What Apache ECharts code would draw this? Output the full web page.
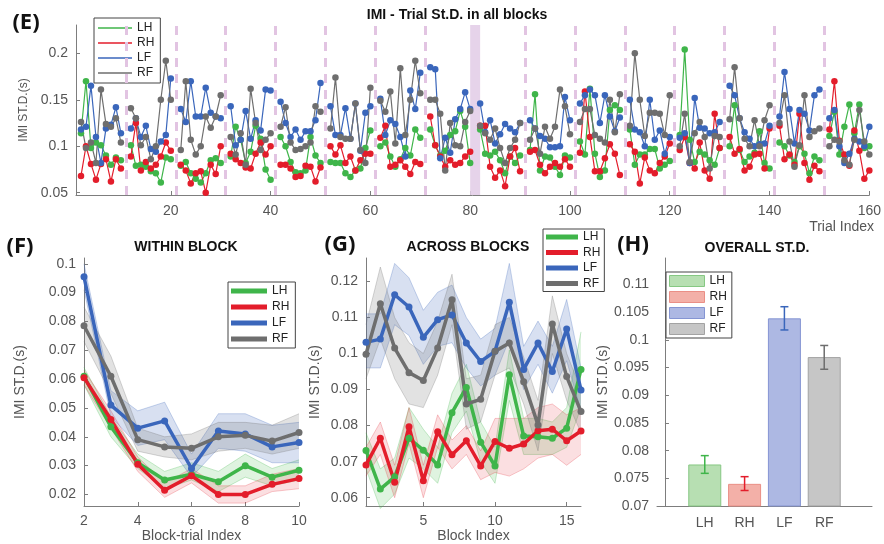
<!DOCTYPE html>
<html>
<head>
<meta charset="utf-8">
<script src="https://cdn.jsdelivr.net/npm/echarts@6/dist/echarts.min.js"></script>
<style>html,body{margin:0;background:#fff}#chart{width:884px;height:544px}</style>
</head>
<body>
<div id="chart"></div>
<script>
const names = ['LH', 'RH', 'LF', 'RF'];
const lineColors = ['#3fb54a', '#e31d2b', '#3a66bb', '#6e6e6e'];
const bandFills = ['rgba(63,181,74,0.17)', 'rgba(227,29,43,0.14)', 'rgba(58,102,187,0.20)', 'rgba(110,110,110,0.20)'];
const bandEdges = ['rgba(63,181,74,0.35)', 'rgba(227,29,43,0.3)', 'rgba(58,102,187,0.35)', 'rgba(110,110,110,0.35)'];

// (E) trial std per block, trials 2..10 of each of 16 blocks
const eLH = [
  [.114, .170, .098, .104, .101, .090, .080, .088, .085],
  [.101, .079, .080, .078, .073, .071, .061, .088, .086],
  [.079, .083, .071, .065, .061, .071, .085, .087, .082],
  [.089, .121, .107, .082, .094, .122, .108, .075, .064],
  [.110, .100, .083, .072, .071, .074, .110, .090, .082],
  [.083, .082, .082, .071, .067, .074, .076, .098, .117],
  [.100, .104, .089, .078, .086, .098, .090, .118, .109],
  [.118, .101, .090, .095, .112, .116, .138, .121, .082],
  [.118, .092, .090, .094, .085, .071, .089, .082, .090],
  [.096, .156, .074, .089, .088, .078, .069, .090, .088],
  [.105, .091, .162, .092, .067, .074, .139, .144, .139],
  [.118, .080, .091, .091, .097, .097, .076, .080, .084],
  [.112, .204, .107, .083, .094, .091, .085, .080, .098],
  [.100, .144, .096, .083, .089, .093, .116, .082, .076],
  [.104, .100, .090, .083, .100, .092, .071, .089, .085],
  [.111, .137, .091, .121, .145, .114, .145, .098, .100]
];
const eRH = [
  [.068, .100, .081, .064, .081, .086, .062, .086, .076],
  [.089, .125, .074, .083, .076, .080, .089, .104, .095],
  [.080, .074, .060, .071, .073, .050, .080, .070, .100],
  [.092, .086, .082, .077, .076, .092, .104, .091, .100],
  [.080, .080, .076, .067, .068, .079, .078, .062, .077],
  [.100, .091, .101, .082, .089, .074, .085, .092, .092],
  [.109, .122, .078, .080, .085, .078, .070, .083, .081],
  [.132, .101, .089, .078, .085, .080, .082, .089, .094],
  [.122, .122, .078, .066, .074, .057, .089, .098, .073],
  [.094, .096, .080, .071, .078, .082, .078, .086, .078],
  [.093, .159, .110, .073, .073, .087, .102, .092, .069],
  [.102, .094, .060, .088, .074, .071, .082, .089, .103],
  [.096, .110, .082, .076, .104, .074, .065, .135, .098],
  [.110, .092, .097, .074, .078, .091, .092, .076, .119],
  [.122, .086, .091, .080, .135, .082, .064, .079, .073],
  [.118, .170, .106, .091, .079, .117, .095, .065, .074]
];
const eLF = [
  [.118, .121, .165, .110, .082, .119, .123, .142, .114],
  [.119, .130, .110, .122, .097, .094, .105, .112, .173],
  [.140, .126, .170, .132, .132, .163, .136, .132, .130],
  [.143, .101, .107, .138, .108, .128, .117, .161, .160],
  [.148, .125, .110, .118, .107, .116, .116, .128, .168],
  [.143, .112, .112, .141, .108, .146, .095, .136, .143],
  [.151, .112, .128, .124, .110, .089, .160, .140, .179],
  [.185, .183, .087, .109, .093, .129, .140, .158, .140],
  [.146, .115, .128, .103, .113, .124, .119, .115, .125],
  [.128, .119, .111, .108, .099, .099, .100, .153, .128],
  [.146, .155, .161, .155, .125, .155, .132, .116, .131],
  [.150, .118, .115, .100, .150, .107, .117, .092, .110],
  [.109, .114, .082, .152, .120, .119, .114, .115, .126],
  [.165, .155, .130, .115, .108, .100, .102, .103, .122],
  [.132, .180, .140, .103, .139, .135, .117, .155, .161],
  [.130, .139, .100, .082, .092, .108, .105, .100, .121]
];
const eRF = [
  [.126, .098, .104, .082, .161, .124, .121, .130, .104],
  [.141, .130, .101, .110, .086, .100, .150, .192, .150],
  [.096, .170, .107, .091, .100, .132, .120, .132, .155],
  [.110, .091, .114, .080, .162, .125, .096, .107, .114],
  [.121, .142, .104, .096, .097, .100, .104, .143, .137],
  [.119, .174, .110, .108, .108, .146, .096, .082, .163],
  [.149, .137, .159, .103, .184, .112, .150, .192, .157],
  [.150, .150, .135, .074, .125, .101, .100, .126, .138],
  [.122, .114, .107, .119, .098, .082, .098, .107, .125],
  [.107, .119, .092, .121, .108, .121, .161, .143, .113],
  [.126, .140, .140, .112, .108, .104, .150, .115, .156],
  [.122, .200, .150, .111, .136, .136, .135, .112, .155],
  [.100, .135, .083, .114, .126, .110, .076, .111, .110],
  [.129, .185, .130, .108, .100, .128, .100, .128, .144],
  [.125, .155, .105, .078, .101, .155, .110, .116, .119],
  [.100, .107, .105, .085, .080, .107, .139, .105, .091]
];
const eXTicks = [20, 40, 60, 80, 100, 120, 140, 160];
const eYTicks = [0.05, 0.1, 0.15, 0.2];
const blockEdges = [11, 21, 31, 41, 51, 61, 71, 91, 101, 111, 121, 131, 141, 151];
const sessionBreak = [80, 82];

// (F) within block
const fX = [2, 3, 4, 5, 6, 7, 8, 9, 10];
const fLH = [.061, .0435, .031, .025, .027, .0244, .030, .026, .0284];
const fRH = [.0605, .046, .0305, .0215, .0265, .020, .020, .0235, .0255];
const fLF = [.0955, .051, .043, .0455, .029, .042, .041, .0365, .038];
const fRF = [.0785, .061, .039, .0365, .036, .040, .0405, .0385, .0415];
const fLHlo = [.058, .040, .029, .022, .025, .021, .026, .023, .025];
const fLHhi = [.064, .047, .034, .028, .031, .028, .034, .029, .032];
const fRHlo = [.058, .043, .028, .019, .024, .017, .017, .021, .022];
const fRHhi = [.063, .049, .033, .024, .029, .023, .023, .027, .029];
const fLFlo = [.091, .047, .037, .039, .026, .036, .035, .031, .031];
const fLFhi = [.100, .056, .049, .052, .034, .048, .048, .044, .045];
const fRFlo = [.073, .055, .035, .033, .032, .035, .036, .034, .036];
const fRFhi = [.085, .068, .043, .040, .041, .045, .045, .044, .048];
const fYTicks = [0.02, 0.03, 0.04, 0.05, 0.06, 0.07, 0.08, 0.09, 0.1];

// (G) across blocks
const gX = [1, 2, 3, 4, 5, 6, 7, 8, 9, 10, 11, 12, 13, 14, 15, 16];
const gLH = [.0731, .0624, .0658, .0765, .0732, .0691, .0836, .0906, .0754, .0688, .0941, .0771, .0769, .0765, .0793, .0956];
const gRH = [.0691, .0765, .0643, .0797, .0647, .0783, .0719, .0758, .0688, .0756, .0737, .0749, .0786, .0790, .0758, .0785];
const gLF = [.1031, .1040, .1163, .1129, .1045, .1094, .1107, .1029, .0978, .1006, .1142, .0956, .1029, .0950, .1068, .0899];
const gRF = [.0998, .1138, .1015, .0947, .0925, .1015, .1149, .0860, .0873, .1006, .1029, .0922, .0802, .1082, .0936, .0839];
const gLHlo = [.068, .057, .061, .071, .068, .064, .078, .084, .070, .064, .087, .072, .072, .072, .074, .085];
const gLHhi = [.078, .068, .071, .085, .079, .074, .089, .097, .081, .074, .101, .082, .082, .081, .085, .106];
const gRHlo = [.066, .072, .060, .075, .060, .074, .068, .072, .065, .067, .066, .068, .071, .072, .069, .072];
const gRHhi = [.074, .081, .069, .085, .069, .083, .076, .080, .073, .082, .082, .082, .085, .086, .083, .085];
const gLFlo = [.096, .096, .108, .105, .097, .102, .103, .096, .091, .094, .104, .090, .097, .089, .098, .084];
const gLFhi = [.111, .111, .125, .121, .112, .117, .119, .110, .104, .107, .125, .102, .109, .102, .115, .096];
const gRFlo = [.093, .104, .093, .086, .085, .094, .108, .079, .081, .094, .096, .086, .073, .100, .087, .078];
const gRFhi = [.108, .124, .110, .103, .100, .109, .122, .093, .094, .108, .110, .099, .087, .116, .100, .090];
const gXTicks = [5, 10, 15];
const gYTicks = [0.06, 0.07, 0.08, 0.09, 0.1, 0.11, 0.12];

// (H) overall
const hCats = ['LH', 'RH', 'LF', 'RF'];
const hMean = [.0775, .0740, .1039, .0969];
const hErrLo = [.0759, .0728, .1018, .0947];
const hErrHi = [.0791, .0753, .1060, .0990];
const hYTicks = [0.07, 0.075, 0.08, 0.085, 0.09, 0.095, 0.1, 0.105, 0.11];
const hFills = ['#b7dfb2', '#f3b0a8', '#adb8e3', '#c6c6c6'];
const hBorders = ['#86c883', '#ea8f86', '#8595d3', '#a3a3a3'];

const font = "'Liberation Sans', Arial, sans-serif";
const axisGray = '#7d7d7d';
const labelGray = '#555';

function axisBase(gi) {
  return {
    gridIndex: gi, type: 'value',
    axisLine: { show: true, lineStyle: { color: axisGray, width: 1 } },
    axisTick: { show: true, inside: true, length: 4, lineStyle: { color: axisGray } },
    axisLabel: { color: labelGray, fontSize: 14, fontFamily: font },
    splitLine: { show: false },
    nameTextStyle: { color: labelGray, fontSize: 14, fontFamily: font }
  };
}
function withTicks(ax, ticks, extra) {
  ax.axisTick.customValues = ticks;
  ax.axisLabel.customValues = ticks;
  ax.axisLabel.formatter = v => String(+v.toFixed(4));
  return Object.assign(ax, extra);
}

function blockData(blocks) {
  const d = [];
  blocks.forEach((b, k) => {
    b.forEach((v, j) => d.push([10 * k + 2 + j, v]));
    d.push([10 * k + 11, '-']);
  });
  return d;
}

const series = [];
// block separators and session break (E)
series.push({
  type: 'line', name: 'sep', xAxisIndex: 0, yAxisIndex: 0, data: [], z: 1, silent: true,
  markLine: {
    silent: true, symbol: 'none', label: { show: false },
    lineStyle: { color: '#e2c4e2', width: 3, type: [9, 7] },
    data: blockEdges.map(x => ({ xAxis: x }))
  },
  markArea: {
    silent: true, itemStyle: { color: '#e6d3ea' },
    data: [[{ xAxis: sessionBreak[0] }, { xAxis: sessionBreak[1] }]]
  }
});
[eLH, eRH, eLF, eRF].forEach((blocks, i) => {
  series.push({
    type: 'line', name: names[i], xAxisIndex: 0, yAxisIndex: 0,
    data: blockData(blocks), connectNulls: false,
    symbol: 'circle', symbolSize: 6.5,
    lineStyle: { width: 1.2, color: lineColors[i] }, itemStyle: { color: lineColors[i] }, z: 3
  });
});

// shaded mean +- sem band, drawn as one polygon through the axis coordinates
function addBand(id, gi, xs, lo, hi, i) {
  series.push({
    type: 'custom', name: id, xAxisIndex: gi, yAxisIndex: gi, z: 2, silent: true,
    data: xs.map((x, k) => [x, lo[k], hi[k]]),
    encode: { x: 0, y: [1, 2] },
    renderItem: (params, api) => {
      if (params.dataIndex !== 0) return null;
      const low = xs.map((x, k) => api.coord([x, lo[k]]));
      const high = xs.map((x, k) => api.coord([x, hi[k]]));
      const edge = { fill: null, stroke: bandEdges[i], lineWidth: 0.8 };
      return {
        type: 'group', children: [
          { type: 'polygon', shape: { points: low.concat(high.slice().reverse()) }, style: { fill: bandFills[i] } },
          { type: 'polyline', shape: { points: low }, style: edge },
          { type: 'polyline', shape: { points: high }, style: edge }
        ]
      };
    }
  });
}
function addMean(gi, xs, ys, i) {
  series.push({
    type: 'line', name: names[i], xAxisIndex: gi, yAxisIndex: gi,
    data: xs.map((x, k) => [x, ys[k]]), symbol: 'circle', symbolSize: 7,
    lineStyle: { width: 3.5, color: lineColors[i] }, itemStyle: { color: lineColors[i] }, z: 4
  });
}
const fLo = [fLHlo, fRHlo, fLFlo, fRFlo], fHi = [fLHhi, fRHhi, fLFhi, fRFhi];
const gLo = [gLHlo, gRHlo, gLFlo, gRFlo], gHi = [gLHhi, gRHhi, gLFhi, gRFhi];
[0, 1, 2, 3].forEach(i => addBand('f' + i, 1, fX, fLo[i], fHi[i], i));
[fLH, fRH, fLF, fRF].forEach((ys, i) => addMean(1, fX, ys, i));
[0, 1, 2, 3].forEach(i => addBand('g' + i, 2, gX, gLo[i], gHi[i], i));
[gLH, gRH, gLF, gRF].forEach((ys, i) => addMean(2, gX, ys, i));

// (H) bars + error bars
series.push({
  type: 'bar', name: 'overall', xAxisIndex: 3, yAxisIndex: 3, barWidth: 33, z: 2,
  data: hMean.map((v, i) => ({
    value: [i + 1, v],
    itemStyle: { color: hFills[i], borderColor: hBorders[i], borderWidth: 1 }
  }))
});
series.push({
  type: 'custom', name: 'err', xAxisIndex: 3, yAxisIndex: 3, z: 5,
  data: hMean.map((v, i) => [i + 1, hErrLo[i], hErrHi[i]]),
  encode: { x: 0, y: [1, 2] },
  renderItem: (params, api) => {
    const x = api.value(0);
    const a = api.coord([x, api.value(1)]);
    const b = api.coord([x, api.value(2)]);
    const c = lineColors[params.dataIndex];
    const st = { stroke: c, lineWidth: 1.5 };
    return {
      type: 'group', children: [
        { type: 'line', shape: { x1: a[0], y1: a[1], x2: b[0], y2: b[1] }, style: st },
        { type: 'line', shape: { x1: a[0] - 4, y1: a[1], x2: a[0] + 4, y2: a[1] }, style: st },
        { type: 'line', shape: { x1: b[0] - 4, y1: b[1], x2: b[0] + 4, y2: b[1] }, style: st }
      ]
    };
  }
});

const legendBase = {
  orient: 'vertical', selectedMode: false, icon: 'rect',
  borderColor: '#444', borderWidth: 1, backgroundColor: '#fff',
  textStyle: { fontSize: 12, color: '#222', fontFamily: font, lineHeight: 12 },
  itemTextGap: 3
};

const text = (t, x, y, size) => ({
  type: 'text', x: x, y: y,
  style: { text: t, fontSize: size, fontWeight: 'bold', fontFamily: font, fill: '#111', align: 'center', verticalAlign: 'middle' }
});
const letter = (t, x, y) => ({
  type: 'text', x: x, y: y,
  style: { text: t, fontSize: 22, fontWeight: 'bold', fontFamily: 'Open Sans', fill: '#111', align: 'center', verticalAlign: 'middle' }
});

const option = {
  animation: false,
  backgroundColor: '#fff',
  grid: [
    { left: 76, top: 25, width: 803, height: 170 },
    { left: 84, top: 258, width: 215, height: 248 },
    { left: 366, top: 258, width: 215, height: 248 },
    { left: 657, top: 258, width: 215, height: 248 }
  ],
  xAxis: [
    withTicks(axisBase(0), eXTicks, { min: 1, max: 160 }),
    Object.assign(axisBase(1), { min: 2, max: 10, interval: 2, name: 'Block-trial Index', nameLocation: 'middle', nameGap: 22 }),
    withTicks(axisBase(2), gXTicks, { min: 1, max: 16, name: 'Block Index', nameLocation: 'middle', nameGap: 22 }),
    withTicks(axisBase(3), [1, 2, 3, 4], { min: -0.2, max: 5.2 })
  ],
  yAxis: [
    withTicks(axisBase(0), eYTicks, { min: 0.0475, max: 0.2305, name: 'IMI ST.D.(s)', nameLocation: 'middle', nameGap: 35 }),
    withTicks(axisBase(1), fYTicks, { min: 0.016, max: 0.102, name: 'IMI ST.D.(s)', nameLocation: 'middle', nameGap: 57 }),
    withTicks(axisBase(2), gYTicks, { min: 0.0577, max: 0.1265, name: 'IMI ST.D.(s)', nameLocation: 'middle', nameGap: 44 }),
    withTicks(axisBase(3), hYTicks, { min: 0.07, max: 0.1148, name: 'IMI ST.D.(s)', nameLocation: 'middle', nameGap: 46 })
  ],
  legend: [
    Object.assign({}, legendBase, { left: 94, top: 18, data: names, itemWidth: 34, itemHeight: 1.5, itemGap: 3, padding: [4, 6, 4, 4] }),
    Object.assign({}, legendBase, { left: 228, top: 282, data: names, itemWidth: 36, itemHeight: 5, itemGap: 4, padding: [3, 6, 3, 3] }),
    Object.assign({}, legendBase, { left: 543, top: 229, data: names, itemWidth: 32, itemHeight: 5, itemGap: 3.5, padding: [2, 4, 2, 3] }),
    Object.assign({}, legendBase, {
      left: 666, top: 272, itemWidth: 35, itemHeight: 11, itemGap: 4, padding: [3, 5, 3, 3],
      textStyle: Object.assign({}, legendBase.textStyle, { lineHeight: 11 }),
      data: hCats.map((c, i) => ({ name: c, itemStyle: { color: hFills[i], borderColor: hBorders[i], borderWidth: 1 } }))
    })
  ],
  graphic: [
    letter('(E)', 26, 23),
    letter('(F)', 20, 247),
    letter('(G)', 340, 245),
    letter('(H)', 633, 245),
    text('IMI - Trial St.D. in all blocks', 457, 15, 14),
    text('WITHIN BLOCK', 186, 247, 14),
    text('ACROSS BLOCKS', 468, 247, 14),
    text('OVERALL ST.D.', 757, 248, 14),
    { type: 'text', x: 874, y: 227, style: { text: 'Trial Index', fontSize: 14, fontFamily: font, fill: labelGray, align: 'right', verticalAlign: 'middle' } }
  ],
  series: series
};
option.yAxis[0].nameTextStyle.fontSize = 12;
option.xAxis[0].axisLabel.margin = 9;
option.xAxis[3].axisLabel.formatter = v => hCats[Math.round(v) - 1] || '';
option.xAxis[3].axisLabel.margin = 10;

const chart = echarts.init(document.getElementById('chart'), null, { renderer: 'canvas' });
chart.setOption(option);
</script>
</body>
</html>
